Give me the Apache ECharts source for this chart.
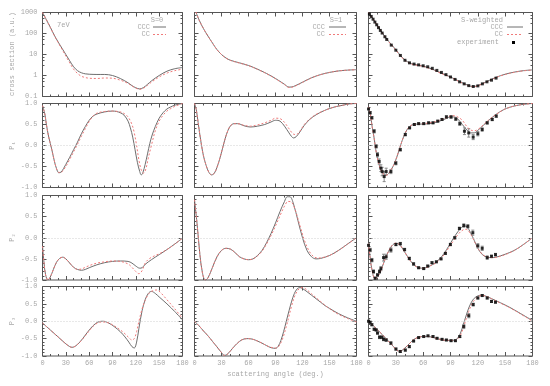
<!DOCTYPE html>
<html><head><meta charset="utf-8">
<script src="https://cdn.jsdelivr.net/npm/echarts/dist/echarts.min.js"></script>
<style>html,body{margin:0;padding:0;background:#fff}#c{width:550px;height:386px}</style>
</head><body><div id="c"></div>
<script>
// ---------- data (scattering angle in degrees, value) ----------
const xTickLabels = [0, 30, 60, 90, 120, 150, 180];
const csTickLabels = [0.1, 1, 10, 100, 1000];
const pTickLabels = [-1.0, -0.5, 0.0, 0.5, 1.0];
const columnTitles = ['S=0', 'S=1', 'S-weighted'];
const rowTitles = ['cross section (a.u.)', 'P\u2081', 'P\u2082', 'P\u2083'];
const energyLabel = '7eV';
const xTitle = 'scattering angle (deg.)';

// Row 1: cross sections
const cs_s0_ccc = [[0,1000],[5,450],[10,200],[15,85],[20,40],[25,20],[30,10],[35,5],[40,2.6],[45,1.7],[50,1.35],[55,1.2],[60,1.15],[70,1.12],[80,1.12],[90,1.0],[100,0.72],[110,0.45],[115,0.33],[120,0.26],[125,0.23],[130,0.27],[135,0.38],[140,0.55],[150,1.0],[160,1.6],[170,2.1],[180,2.4]];
const cs_s0_cc = [[0,1000],[5,450],[10,195],[15,82],[20,38],[25,18],[30,8.5],[35,4],[40,2.0],[45,1.25],[50,0.92],[55,0.8],[60,0.74],[70,0.72],[80,0.76],[90,0.74],[100,0.6],[110,0.42],[115,0.32],[120,0.25],[125,0.22],[130,0.25],[135,0.34],[140,0.48],[150,0.85],[160,1.3],[170,1.7],[180,2.0]];
const cs_s1_ccc = [[0,1600],[5,450],[10,170],[15,75],[20,35],[25,17],[30,10],[35,6.8],[40,5.3],[50,4.0],[60,3.0],[70,2.0],[80,1.25],[90,0.72],[100,0.38],[105,0.28],[110,0.3],[120,0.48],[130,0.78],[140,1.1],[150,1.4],[160,1.65],[170,1.8],[180,1.9]];
const cs_s1_cc = [[0,1600],[5,450],[10,170],[15,75],[20,35],[25,17],[30,10],[35,6.7],[40,5.2],[50,3.9],[60,2.95],[70,1.95],[80,1.22],[90,0.7],[100,0.37],[105,0.27],[110,0.29],[120,0.47],[130,0.77],[140,1.1],[150,1.4],[160,1.65],[170,1.8],[180,1.9]];
const cs_sw_ccc = [[0,1000],[5,500],[10,230],[15,110],[20,55],[25,30],[30,17],[35,9],[40,5.5],[45,4.0],[50,3.4],[60,2.8],[70,2.0],[80,1.3],[90,0.85],[100,0.52],[110,0.33],[115,0.3],[120,0.33],[130,0.52],[140,0.82],[150,1.15],[160,1.45],[170,1.7],[180,1.85]];
const cs_sw_cc = [[0,1000],[5,500],[10,228],[15,108],[20,53],[25,29],[30,16],[35,8.6],[40,5.2],[45,3.8],[50,3.25],[60,2.7],[70,1.93],[80,1.25],[90,0.82],[100,0.5],[110,0.32],[115,0.29],[120,0.32],[130,0.5],[140,0.8],[150,1.12],[160,1.42],[170,1.67],[180,1.82]];
const cs_exp = [[1,850],[3,650],[5,480],[7,350],[9,260],[11,190],[13,140],[15,105],[18,70],[20,52],[25,28],[30,16],[35,9],[40,5.3],[45,4.0],[50,3.5],[55,3.2],[60,2.9],[65,2.6],[70,2.2],[75,1.75],[80,1.4],[85,1.1],[90,0.85],[95,0.65],[100,0.5],[105,0.4],[110,0.33],[115,0.3],[120,0.32],[125,0.4],[130,0.5],[135,0.6],[140,0.75]];

// Row 2: P1
const p1_s0_ccc = [[0,0.95],[3,0.75],[5,0.5],[8,0.2],[10,0.05],[12,-0.1],[15,-0.35],[18,-0.55],[21,-0.65],[24,-0.63],[27,-0.55],[30,-0.45],[35,-0.28],[40,-0.1],[45,0.08],[50,0.28],[55,0.45],[60,0.6],[65,0.7],[70,0.75],[80,0.8],[90,0.82],[95,0.81],[100,0.78],[105,0.72],[110,0.58],[113,0.42],[116,0.2],[119,-0.1],[122,-0.4],[125,-0.62],[127,-0.7],[129,-0.65],[132,-0.45],[135,-0.2],[138,0.05],[141,0.25],[145,0.45],[150,0.65],[155,0.78],[160,0.87],[165,0.92],[170,0.96],[180,1.0]];
const p1_s0_cc = [[0,0.95],[3,0.75],[5,0.5],[8,0.2],[10,0.05],[12,-0.1],[15,-0.35],[18,-0.55],[21,-0.64],[24,-0.64],[27,-0.58],[30,-0.5],[35,-0.33],[40,-0.15],[45,0.03],[50,0.22],[55,0.4],[60,0.57],[65,0.7],[70,0.77],[80,0.81],[90,0.82],[100,0.8],[105,0.76],[110,0.68],[115,0.5],[118,0.3],[121,0.0],[124,-0.35],[127,-0.58],[130,-0.66],[133,-0.55],[136,-0.3],[140,0.0],[145,0.35],[150,0.58],[155,0.72],[160,0.82],[165,0.88],[170,0.93],[180,1.0]];
const p1_s1_ccc = [[0,1.0],[2,0.85],[4,0.55],[6,0.25],[8,-0.02],[10,-0.25],[13,-0.48],[16,-0.64],[19,-0.7],[22,-0.66],[25,-0.52],[28,-0.32],[31,-0.08],[34,0.16],[37,0.35],[40,0.47],[44,0.52],[48,0.52],[55,0.47],[62,0.44],[70,0.46],[78,0.5],[85,0.56],[90,0.6],[95,0.58],[100,0.46],[105,0.3],[108,0.21],[110,0.18],[113,0.21],[117,0.32],[122,0.48],[128,0.62],[135,0.73],[143,0.82],[150,0.88],[158,0.93],[165,0.96],[172,0.99],[180,1.0]];
const p1_s1_cc = [[0,1.0],[2,0.85],[4,0.55],[6,0.25],[8,-0.02],[10,-0.25],[13,-0.48],[16,-0.64],[19,-0.7],[22,-0.66],[25,-0.52],[28,-0.32],[31,-0.08],[34,0.16],[37,0.35],[40,0.47],[44,0.52],[48,0.52],[55,0.48],[62,0.46],[70,0.49],[78,0.54],[85,0.6],[90,0.65],[95,0.64],[100,0.55],[105,0.4],[110,0.27],[113,0.26],[117,0.34],[122,0.5],[128,0.63],[135,0.74],[143,0.82],[150,0.88],[158,0.93],[165,0.96],[172,0.99],[180,1.0]];
const p1_sw_ccc = [[0,0.92],[2,0.75],[4,0.45],[6,0.2],[8,-0.1],[10,-0.32],[13,-0.55],[16,-0.67],[19,-0.71],[22,-0.67],[25,-0.57],[28,-0.45],[31,-0.28],[34,-0.08],[37,0.12],[40,0.28],[43,0.4],[47,0.48],[52,0.51],[60,0.51],[70,0.53],[78,0.58],[85,0.64],[90,0.68],[94,0.68],[98,0.63],[103,0.5],[108,0.37],[112,0.3],[116,0.3],[120,0.36],[126,0.48],[132,0.6],[140,0.74],[148,0.85],[155,0.91],[162,0.95],[170,0.98],[180,1.0]];
const p1_sw_cc = [[0,0.92],[2,0.75],[4,0.45],[6,0.2],[8,-0.1],[10,-0.32],[13,-0.55],[16,-0.67],[19,-0.71],[22,-0.67],[25,-0.57],[28,-0.45],[31,-0.28],[34,-0.08],[37,0.12],[40,0.28],[43,0.4],[47,0.48],[52,0.51],[60,0.52],[70,0.55],[78,0.6],[85,0.66],[90,0.7],[94,0.71],[98,0.68],[103,0.6],[108,0.45],[112,0.37],[116,0.35],[120,0.38],[126,0.49],[132,0.61],[140,0.74],[148,0.85],[155,0.91],[162,0.95],[170,0.98],[180,1.0]];
const p1_exp = [[0,0.87],[1.8,0.78],[3.7,0.66],[6.2,0.34],[8.4,-0.02],[9.9,-0.22],[11.7,-0.38],[13.6,-0.54],[15,-0.62],[17.2,-0.74],[19.4,-0.62],[24.6,-0.62],[30,-0.42],[34.9,-0.1],[40.4,0.26],[45.1,0.42],[50.3,0.5],[55,0.52],[60.6,0.52],[66,0.54],[70.8,0.54],[76,0.58],[80.7,0.62],[85.5,0.68],[90.6,0.68],[95.8,0.63],[100.2,0.52],[105.3,0.34],[110,0.3],[114.9,0.2],[120,0.28],[124.8,0.38],[130.3,0.54],[135.8,0.62],[140.2,0.7]];
const p1_err = [0.03,0.03,0.03,0.04,0.04,0.05,0.06,0.08,0.1,0.12,0.08,0.05,0.04,0.03,0.03,0.02,0.02,0.02,0.02,0.02,0.02,0.02,0.02,0.03,0.03,0.03,0.04,0.08,0.1,0.06,0.05,0.04,0.03,0.03,0.03];

// Row 3: P2
const p2_s0_ccc = [[0,-0.2],[2,-0.6],[4,-0.88],[7,-1.0],[10,-0.93],[14,-0.75],[18,-0.58],[22,-0.49],[26,-0.46],[30,-0.5],[35,-0.6],[40,-0.7],[45,-0.75],[50,-0.77],[55,-0.75],[60,-0.71],[70,-0.64],[80,-0.59],[90,-0.56],[100,-0.55],[110,-0.56],[115,-0.6],[120,-0.67],[125,-0.72],[128,-0.71],[132,-0.63],[140,-0.52],[150,-0.4],[160,-0.28],[170,-0.15],[180,-0.01]];
const p2_s0_cc = [[0,-0.2],[2,-0.6],[4,-0.88],[7,-1.0],[10,-0.93],[14,-0.75],[18,-0.58],[22,-0.49],[26,-0.46],[30,-0.5],[35,-0.6],[40,-0.7],[45,-0.75],[50,-0.74],[55,-0.7],[60,-0.66],[70,-0.6],[80,-0.57],[90,-0.55],[100,-0.56],[110,-0.62],[115,-0.7],[120,-0.8],[124,-0.85],[128,-0.78],[132,-0.6],[137,-0.5],[145,-0.42],[150,-0.38],[160,-0.28],[170,-0.15],[180,-0.01]];
const p2_s1_ccc = [[0,0.9],[3,0.3],[6,-0.4],[9,-0.85],[12,-1.0],[15,-0.95],[20,-0.7],[25,-0.45],[30,-0.3],[35,-0.25],[40,-0.27],[45,-0.35],[50,-0.45],[55,-0.5],[60,-0.52],[65,-0.5],[70,-0.42],[75,-0.3],[80,-0.12],[85,0.1],[90,0.35],[95,0.62],[100,0.86],[103,0.97],[106,0.97],[110,0.8],[115,0.4],[120,0.0],[125,-0.3],[130,-0.45],[135,-0.5],[140,-0.49],[150,-0.42],[160,-0.3],[170,-0.15],[180,0.0]];
const p2_s1_cc = [[0,0.9],[3,0.3],[6,-0.4],[9,-0.85],[12,-1.0],[15,-0.95],[20,-0.7],[25,-0.45],[30,-0.3],[35,-0.25],[40,-0.27],[45,-0.35],[50,-0.45],[55,-0.5],[60,-0.52],[65,-0.5],[70,-0.43],[75,-0.32],[80,-0.15],[85,0.05],[90,0.28],[95,0.52],[100,0.75],[104,0.86],[108,0.84],[112,0.65],[117,0.3],[122,-0.05],[127,-0.3],[132,-0.44],[137,-0.48],[142,-0.47],[150,-0.42],[160,-0.3],[170,-0.15],[180,0.0]];
const p2_sw_ccc = [[0,-0.14],[2,-0.5],[4,-0.78],[7,-0.96],[10,-0.93],[14,-0.75],[18,-0.52],[22,-0.32],[26,-0.18],[30,-0.13],[34,-0.16],[38,-0.28],[43,-0.45],[48,-0.6],[53,-0.69],[58,-0.72],[63,-0.71],[68,-0.66],[73,-0.6],[78,-0.5],[83,-0.37],[88,-0.2],[93,-0.02],[98,0.14],[102,0.24],[105,0.28],[108,0.26],[112,0.12],[116,-0.06],[120,-0.25],[125,-0.4],[130,-0.46],[135,-0.47],[140,-0.46],[150,-0.39],[160,-0.3],[170,-0.16],[180,0.0]];
const p2_sw_cc = [[0,-0.14],[2,-0.5],[4,-0.78],[7,-0.96],[10,-0.93],[14,-0.75],[18,-0.52],[22,-0.32],[26,-0.18],[30,-0.13],[34,-0.16],[38,-0.28],[43,-0.45],[48,-0.6],[53,-0.69],[58,-0.72],[63,-0.71],[68,-0.66],[73,-0.61],[78,-0.52],[83,-0.4],[88,-0.24],[93,-0.08],[98,0.07],[102,0.16],[106,0.2],[109,0.18],[113,0.05],[117,-0.12],[121,-0.28],[126,-0.41],[131,-0.46],[136,-0.47],[141,-0.46],[150,-0.4],[160,-0.3],[170,-0.16],[180,0.0]];
const p2_exp = [[0,-0.18],[1.8,-0.29],[3.7,-0.53],[5.5,-0.8],[7.3,-0.96],[9.9,-0.88],[12.1,-0.8],[13.6,-0.73],[16.5,-0.47],[19.4,-0.45],[24.6,-0.29],[30.1,-0.16],[34.9,-0.14],[39.6,-0.28],[44.8,-0.49],[49.5,-0.62],[55,-0.71],[60.6,-0.73],[65,-0.67],[69.7,-0.59],[74.5,-0.57],[79.6,-0.5],[84.4,-0.37],[89.9,-0.16],[94.7,0.0],[99.8,0.22],[104.6,0.29],[109,0.27],[114.5,0.12],[120,-0.19],[124.8,-0.25],[130.3,-0.47],[135,-0.44],[139.4,-0.4]];
const p2_err = [0.04,0.04,0.04,0.04,0.03,0.03,0.04,0.05,0.08,0.06,0.05,0.03,0.03,0.03,0.03,0.03,0.02,0.02,0.02,0.02,0.02,0.02,0.02,0.03,0.03,0.03,0.04,0.04,0.06,0.05,0.05,0.04,0.03,0.03];

// Row 4: P3
const p3_s0_ccc = [[0,-0.05],[10,-0.25],[20,-0.45],[30,-0.65],[35,-0.73],[38,-0.75],[42,-0.72],[48,-0.6],[55,-0.4],[62,-0.2],[68,-0.07],[73,-0.01],[78,0.0],[85,-0.05],[92,-0.15],[100,-0.3],[106,-0.45],[111,-0.6],[115,-0.73],[118,-0.77],[121,-0.6],[124,-0.2],[128,0.3],[132,0.62],[136,0.8],[140,0.86],[145,0.8],[150,0.7],[160,0.5],[170,0.28],[180,0.04]];
const p3_s0_cc = [[0,-0.05],[10,-0.25],[20,-0.45],[30,-0.65],[35,-0.73],[38,-0.75],[42,-0.72],[48,-0.6],[55,-0.42],[62,-0.22],[68,-0.09],[73,-0.03],[78,-0.02],[85,-0.05],[92,-0.13],[100,-0.25],[106,-0.36],[111,-0.47],[115,-0.54],[118,-0.5],[121,-0.3],[124,0.0],[128,0.35],[132,0.6],[137,0.8],[142,0.88],[147,0.9],[152,0.82],[160,0.62],[170,0.36],[180,0.08]];
const p3_s1_ccc = [[0,0.0],[5,-0.13],[10,-0.28],[15,-0.42],[20,-0.58],[25,-0.74],[30,-0.9],[33,-0.98],[36,-0.96],[40,-0.85],[45,-0.7],[50,-0.58],[55,-0.51],[60,-0.5],[65,-0.52],[70,-0.57],[75,-0.63],[80,-0.7],[85,-0.76],[90,-0.78],[93,-0.72],[96,-0.55],[99,-0.3],[102,0.0],[105,0.3],[108,0.58],[111,0.8],[114,0.93],[117,0.97],[120,0.94],[125,0.85],[130,0.75],[135,0.65],[140,0.55],[145,0.45],[150,0.37],[160,0.22],[170,0.1],[180,0.0]];
const p3_s1_cc = [[0,0.0],[5,-0.13],[10,-0.28],[15,-0.42],[20,-0.58],[25,-0.74],[30,-0.9],[33,-0.98],[36,-0.96],[40,-0.85],[45,-0.7],[50,-0.58],[55,-0.51],[60,-0.5],[65,-0.52],[70,-0.57],[75,-0.63],[80,-0.7],[85,-0.75],[90,-0.77],[93,-0.74],[96,-0.62],[99,-0.42],[102,-0.15],[105,0.15],[108,0.45],[111,0.7],[114,0.86],[117,0.95],[120,0.97],[125,0.9],[130,0.79],[135,0.68],[140,0.57],[145,0.46],[150,0.36],[160,0.2],[170,0.08],[180,-0.02]];
const p3_sw_ccc = [[0,0.0],[5,-0.12],[10,-0.25],[15,-0.38],[20,-0.52],[25,-0.66],[30,-0.8],[33,-0.86],[36,-0.85],[40,-0.77],[45,-0.64],[50,-0.52],[55,-0.46],[60,-0.44],[65,-0.44],[70,-0.46],[75,-0.5],[80,-0.53],[85,-0.55],[90,-0.55],[95,-0.54],[98,-0.48],[101,-0.34],[104,-0.1],[107,0.15],[110,0.38],[113,0.55],[116,0.66],[120,0.73],[124,0.75],[128,0.73],[135,0.65],[145,0.53],[155,0.4],[165,0.25],[180,0.02]];
const p3_sw_cc = [[0,0.0],[5,-0.12],[10,-0.25],[15,-0.38],[20,-0.52],[25,-0.66],[30,-0.8],[33,-0.86],[36,-0.85],[40,-0.77],[45,-0.64],[50,-0.52],[55,-0.46],[60,-0.44],[65,-0.44],[70,-0.46],[75,-0.5],[80,-0.53],[85,-0.55],[90,-0.55],[95,-0.55],[98,-0.51],[101,-0.4],[104,-0.2],[107,0.05],[110,0.28],[113,0.47],[116,0.6],[120,0.7],[124,0.74],[128,0.73],[135,0.65],[145,0.52],[155,0.39],[165,0.24],[180,0.0]];
const p3_exp = [[0,0.0],[1.8,-0.03],[3.7,-0.1],[6.2,-0.23],[8.4,-0.25],[9.9,-0.34],[12.1,-0.46],[14.7,-0.46],[16.5,-0.52],[19.4,-0.54],[24.6,-0.63],[30.1,-0.8],[34.9,-0.87],[40.4,-0.83],[44.8,-0.73],[49.5,-0.57],[55,-0.47],[60.6,-0.44],[65.3,-0.42],[70.8,-0.44],[75.2,-0.49],[80.7,-0.52],[85.5,-0.54],[90.6,-0.56],[95.4,-0.56],[100.2,-0.44],[104.6,-0.15],[110.1,0.16],[114.9,0.48],[120,0.67],[124.8,0.74],[130.3,0.67],[135,0.57],[139.4,0.55]];
const p3_err = [0.03,0.03,0.03,0.03,0.03,0.03,0.04,0.04,0.04,0.04,0.04,0.03,0.03,0.03,0.03,0.02,0.02,0.02,0.02,0.02,0.02,0.02,0.02,0.02,0.02,0.03,0.06,0.06,0.04,0.03,0.03,0.03,0.03,0.03];

// ---------- layout / style ----------
const FONT = '"Liberation Mono","DejaVu Sans Mono",monospace';
const TXT = '#a8a8a8';
const FRAME = '#555';
const CCC_COLOR = '#6e6e6e';
const CC_COLOR = '#f07a7a';
const cols = [[42.5, 140], [194.5, 162], [368.5, 164]];
const rows = [[12.5, 84], [103.5, 84], [195.5, 84.5], [286.5, 69.5]];

const panels = [
  [[cs_s0_ccc, cs_s0_cc, null, null], [cs_s1_ccc, cs_s1_cc, null, null], [cs_sw_ccc, cs_sw_cc, cs_exp, null]],
  [[p1_s0_ccc, p1_s0_cc, null, null], [p1_s1_ccc, p1_s1_cc, null, null], [p1_sw_ccc, p1_sw_cc, p1_exp, p1_err]],
  [[p2_s0_ccc, p2_s0_cc, null, null], [p2_s1_ccc, p2_s1_cc, null, null], [p2_sw_ccc, p2_sw_cc, p2_exp, p2_err]],
  [[p3_s0_ccc, p3_s0_cc, null, null], [p3_s1_ccc, p3_s1_cc, null, null], [p3_sw_ccc, p3_sw_cc, p3_exp, p3_err]]
];

const grids = [], xAxes = [], yAxes = [], xTop = [], yRight = [], series = [];
const tickCommon = { show: true, inside: true, length: 4, lineStyle: { color: FRAME, width: 1 } };
const minorCommon = (n) => ({ show: true, splitNumber: n, length: 2, lineStyle: { color: FRAME, width: 1 } });
const lab = (show, margin) => ({ show, color: TXT, fontSize: 7, fontFamily: FONT, margin, showMinLabel: true, showMaxLabel: true, hideOverlap: false });
const noLine = { show: false, onZero: false };

function errorBarRender(params, api) {
  const x = api.value(0), y = api.value(1), e = api.value(2);
  const top = api.coord([x, y + e]), bot = api.coord([x, y - e]);
  const st = { stroke: '#8a8a8a', lineWidth: 1 };
  return { type: 'group', children: [
    { type: 'line', shape: { x1: top[0], y1: top[1], x2: bot[0], y2: bot[1] }, style: st },
    { type: 'line', shape: { x1: top[0] - 1.5, y1: top[1], x2: top[0] + 1.5, y2: top[1] }, style: st },
    { type: 'line', shape: { x1: bot[0] - 1.5, y1: bot[1], x2: bot[0] + 1.5, y2: bot[1] }, style: st }
  ] };
}

let gi = 0;
for (let r = 0; r < 4; r++) {
  for (let c = 0; c < 3; c++) {
    grids.push({ left: cols[c][0], width: cols[c][1], top: rows[r][0], height: rows[r][1], show: true, borderColor: FRAME, borderWidth: 1, backgroundColor: 'transparent', containLabel: false, outerBoundsMode: 'none' });
    const xa = { type: 'value', gridIndex: gi, position: 'bottom', min: xTickLabels[0], max: xTickLabels[xTickLabels.length - 1], interval: 30,
      axisLine: noLine, splitLine: { show: false }, axisTick: tickCommon, minorTick: minorCommon(3),
      axisLabel: Object.assign(lab(r === 3, 4), { formatter: v => String(v) }) };
    xAxes.push(xa);
    xTop.push(Object.assign({}, xa, { position: 'top', axisLabel: { show: false } }));
    let ya;
    if (r === 0) {
      ya = { type: 'log', logBase: 10, gridIndex: gi, position: 'left', min: csTickLabels[0], max: csTickLabels[csTickLabels.length - 1],
        axisLine: noLine, splitLine: { show: false }, axisTick: tickCommon, minorTick: minorCommon(4),
        axisLabel: Object.assign(lab(c === 0, 5), { formatter: v => v >= 1 ? String(Math.round(v)) : Number(v).toFixed(1) }) };
    } else {
      ya = { type: 'value', gridIndex: gi, position: 'left', min: pTickLabels[0], max: pTickLabels[pTickLabels.length - 1], interval: 0.5,
        axisLine: noLine, splitLine: { show: false }, axisTick: tickCommon, minorTick: minorCommon(5),
        axisLabel: Object.assign(lab(c === 0, 5), { formatter: v => Number(v).toFixed(1) }) };
    }
    yAxes.push(ya);
    yRight.push(Object.assign({}, ya, { position: 'right', axisLabel: { show: false } }));

    const [ccc, cc, exp, err] = panels[r][c];
    const s1 = { type: 'line', xAxisIndex: gi, yAxisIndex: gi, data: ccc, showSymbol: false, symbol: 'none', smooth: 0.35,
      lineStyle: { color: CCC_COLOR, width: 1 }, z: 3, silent: true };
    if (r > 0) {
      s1.markLine = { silent: true, symbol: 'none', label: { show: false }, animation: false,
        lineStyle: { color: '#d0d0d0', type: [1, 2], width: 1 }, data: [{ yAxis: 0 }] };
    }
    series.push(s1);
    series.push({ type: 'line', xAxisIndex: gi, yAxisIndex: gi, data: cc, showSymbol: false, symbol: 'none', smooth: 0.35,
      lineStyle: { color: CC_COLOR, width: 1, type: [2, 2] }, z: 4, silent: true });
    if (err) {
      series.push({ type: 'custom', xAxisIndex: gi, yAxisIndex: gi, silent: true, z: 4, clip: true,
        data: exp.map((p, i) => [p[0], p[1], err[i]]), renderItem: errorBarRender, encode: { x: 0, y: 1 } });
    }
    if (exp) {
      series.push({ type: 'scatter', xAxisIndex: gi, yAxisIndex: gi, data: exp, symbol: 'rect', symbolSize: 3,
        itemStyle: { color: '#000' }, z: 5, silent: true });
    }
    gi++;
  }
}
const allX = xAxes.concat(xTop);
const allY = yAxes.concat(yRight);

// ---------- text / legend graphics ----------
const graphics = [];
function txt(x, y, t, align, rot) {
  graphics.push({ type: 'text', x, y, rotation: rot || 0, silent: true,
    style: { text: t, fill: TXT, font: '7px ' + FONT, align: align, textAlign: align, verticalAlign: 'middle', textVerticalAlign: 'middle' } });
}
function sample(x1, x2, y, color, dash) {
  graphics.push({ type: 'line', silent: true, shape: { x1, y1: y, x2, y2: y }, style: { stroke: color, lineWidth: 1, lineDash: dash || null } });
}
txt(57, 25, energyLabel, 'left');
// panel 1 key
txt(157, 20, columnTitles[0], 'center');
txt(150, 27, 'CCC', 'right'); sample(153, 166, 27, CCC_COLOR);
txt(150, 34.5, 'CC', 'right'); sample(153, 166, 34.5, CC_COLOR, [2, 2]);
// panel 2 key
txt(336, 20, columnTitles[1], 'center');
txt(325, 27, 'CCC', 'right'); sample(329, 346, 27, CCC_COLOR);
txt(325, 34.5, 'CC', 'right'); sample(329, 346, 34.5, CC_COLOR, [2, 2]);
// panel 3 key
txt(482, 20, columnTitles[2], 'center');
txt(503, 27, 'CCC', 'right'); sample(507, 523, 27, CCC_COLOR);
txt(503, 34.5, 'CC', 'right'); sample(507, 523, 34.5, CC_COLOR, [2, 2]);
txt(499, 42.5, 'experiment', 'right');
graphics.push({ type: 'rect', silent: true, shape: { x: 512, y: 41, width: 3, height: 3 }, style: { fill: '#000' } });
// axis titles
txt(12, 54, rowTitles[0], 'center', Math.PI / 2);
txt(12, 145.5, rowTitles[1], 'center', Math.PI / 2);
txt(12, 237.5, rowTitles[2], 'center', Math.PI / 2);
txt(12, 321, rowTitles[3], 'center', Math.PI / 2);
txt(275.5, 374.5, xTitle, 'center');

const chart = echarts.init(document.getElementById('c'), null, { renderer: 'canvas' });
chart.setOption({
  animation: false,
  backgroundColor: '#fff',
  grid: grids,
  xAxis: allX,
  yAxis: allY,
  series: series,
  graphic: graphics
});
</script></body></html>
